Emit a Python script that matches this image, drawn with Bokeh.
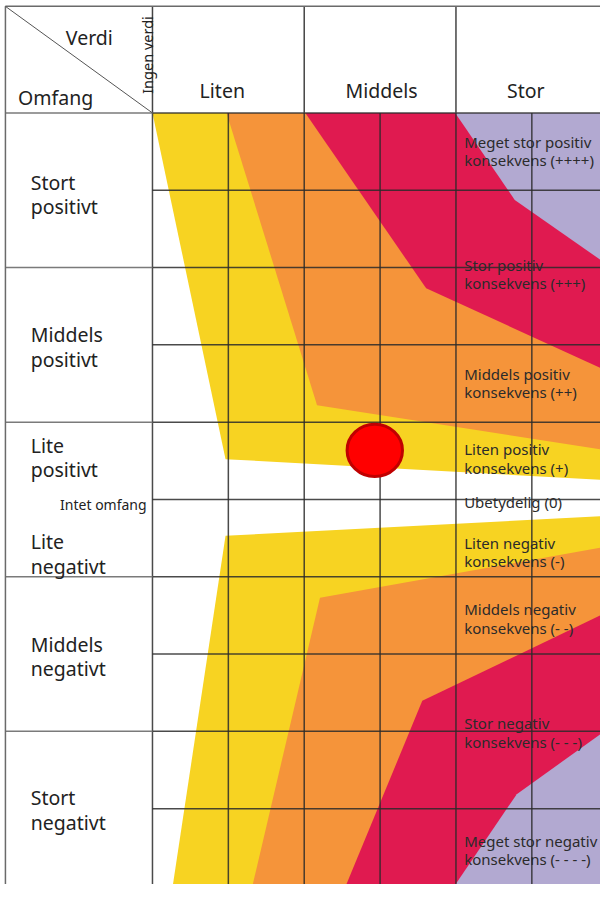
import numpy as np
from bokeh.plotting import figure
from bokeh.models import Range1d
from bokeh.core.properties import value
from bokeh.embed import file_html
from bokeh.resources import INLINE

# ---------------- data ----------------
# value axis: 0 = "Ingen verdi", each value class spans two half-columns
value_classes = ["Liten", "Middels", "Stor"]
no_value_label = "Ingen verdi"
corner_value_label = "Verdi"
corner_extent_label = "Omfang"

# extent axis: +5 (stort positivt) ... 0 (intet omfang) ... -5 (stort negativt)
extent_first = ["Stort", "Middels", "Lite", "Lite", "Middels", "Stort"]
extent_second = ["positivt", "positivt", "positivt", "negativt", "negativt", "negativt"]
no_extent_label = "Intet omfang"

consequence_first = ["Meget stor positiv", "Stor positiv", "Middels positiv",
                     "Liten positiv", "Ubetydelig (0)", "Liten negativ",
                     "Middels negativ", "Stor negativ", "Meget stor negativ"]
consequence_second = ["konsekvens (++++)", "konsekvens (+++)", "konsekvens (++)",
                      "konsekvens (+)", "", "konsekvens (-)",
                      "konsekvens (- -)", "konsekvens (- - -)", "konsekvens (- - - -)"]

# consequence fan zones (value, extent) vertices
yellow_pos_v = [0.0, 6.0, 6.0, 0.963]
yellow_pos_u = [5.0, 5.0, 0.249, 0.521]
orange_pos_v = [0.976, 6.0, 6.0, 2.169]
orange_pos_u = [5.0, 5.0, 0.634, 1.22]
red_pos_v = [2.015, 6.0, 6.0, 3.607]
red_pos_u = [5.0, 5.0, 1.66, 2.732]
purple_pos_v = [3.99, 6.0, 6.0, 4.775]
purple_pos_u = [5.0, 5.0, 3.034, 3.875]

yellow_neg_v = [0.963, 6.0, 6.0, 0.267]
yellow_neg_u = [-0.470, -0.211, -5.0, -5.0]
orange_neg_v = [2.208, 6.0, 6.0, 1.317]
orange_neg_u = [-1.271, -0.607, -5.0, -5.0]
red_neg_v = [3.556, 6.0, 6.0, 2.547]
red_neg_u = [-2.605, -1.454, -5.0, -5.0]
purple_neg_v = [4.801, 6.0, 6.0, 3.98]
purple_neg_u = [-3.812, -2.97, -5.0, -5.0]

# assessed consequence
point_value = [2.93]
point_extent = [0.635]

# ---------------- styles / layout ----------------
YELLOW = "#f7d322"
ORANGE = "#f5943a"
RED = "#e01a50"
PURPLE = "#b2a9d1"
FONT = value("Noto Sans")
TXT = "#222222"

V_LEFT = -1.938
U_TOP = 6.379
U_BOTTOM = -5.0
V_RIGHT = 6.0

p = figure(width=600, height=884, x_range=Range1d(-2.003, 5.905),
           y_range=Range1d(-4.981, 6.455), output_backend="svg",
           toolbar_location=None, min_border=0)
p.axis.visible = False
p.grid.visible = False
p.outline_line_color = None
p.background_fill_color = "white"
p.border_fill_color = "white"

# zones (layered)
p.patches(xs=[yellow_pos_v, yellow_neg_v], ys=[yellow_pos_u, yellow_neg_u],
          fill_color=YELLOW, line_color=None)
p.patches(xs=[orange_pos_v, orange_neg_v], ys=[orange_pos_u, orange_neg_u],
          fill_color=ORANGE, line_color=None)
p.patches(xs=[red_pos_v, red_neg_v], ys=[red_pos_u, red_neg_u],
          fill_color=RED, line_color=None)
p.patches(xs=[purple_pos_v, purple_neg_v], ys=[purple_pos_u, purple_neg_u],
          fill_color=PURPLE, line_color=None)

# grid in data area
vcols = np.arange(0, 6)
urows = np.arange(-5, 6)
p.segment(x0=vcols, y0=[U_BOTTOM] * len(vcols), x1=vcols, y1=[5] * len(vcols),
          line_color="#2a2a2a", line_width=1.5, line_alpha=0.85)
p.segment(x0=[0] * len(urows), y0=urows, x1=[V_RIGHT] * len(urows), y1=urows,
          line_color="#2a2a2a", line_width=1.5, line_alpha=0.85)
# header verticals
hv = np.arange(0, 6, 2)
p.segment(x0=hv, y0=[5] * len(hv), x1=hv, y1=[U_TOP] * len(hv),
          line_color="#444444", line_width=1.5)
# label column lines
major = np.arange(-3, 6, 2)
p.segment(x0=[V_LEFT] * len(major), y0=major, x1=[0] * len(major), y1=major,
          line_color="#7a7a7a", line_width=1.5)
p.segment(x0=[V_LEFT, V_LEFT], y0=[U_TOP, U_TOP], x1=[V_RIGHT, V_LEFT], y1=[U_TOP, U_BOTTOM],
          line_color="#6a6a6a", line_width=1.5)
# diagonal in corner
p.segment(x0=[V_LEFT], y0=[U_TOP], x1=[0], y1=[5], line_color="#555555", line_width=1)

# header texts
p.text(x=[-1.142], y=[5.972], text=[corner_value_label], text_font=FONT,
       text_font_size="19.5px", text_color=TXT, text_align="left", text_baseline="alphabetic")
p.text(x=[-1.771], y=[5.197], text=[corner_extent_label], text_font=FONT,
       text_font_size="19.5px", text_color=TXT, text_align="left", text_baseline="alphabetic")
p.text(x=[0.92, 3.02, 4.92], y=[5.286] * 3, text=value_classes, text_font=FONT,
       text_font_size="19.5px", text_color=TXT, text_align="center", text_baseline="alphabetic")
p.text(x=[-0.077], y=[5.248], text=[no_value_label], angle=np.pi / 2, text_font=FONT,
       text_font_size="14.5px", text_color=TXT, text_align="left", text_baseline="alphabetic")

# row labels
row_u = [4.10, 2.13, 0.70, -0.546, -1.87, -3.86]
p.text(x=[-1.605] * 6, y=row_u, text=extent_first, text_font=FONT,
       text_font_size="19.5px", text_color=TXT, text_align="left", text_baseline="alphabetic")
p.text(x=[-1.605] * 6, y=[u - 0.315 for u in row_u], text=extent_second, text_font=FONT,
       text_font_size="19.5px", text_color=TXT, text_align="left", text_baseline="alphabetic")
p.text(x=[-0.077], y=[-0.064], text=[no_extent_label], text_font=FONT,
       text_font_size="14px", text_color=TXT, text_align="right", text_baseline="alphabetic")

# consequence labels
cons_u = [4.625, 3.037, 1.626, 0.648, -0.038, -0.559, -1.423, -2.897, -4.42]
p.text(x=[4.108] * 9, y=cons_u, text=consequence_first, text_font=FONT,
       text_font_size="15px", text_color="#2b2b2b", text_align="left", text_baseline="alphabetic")
p.text(x=[4.108] * 9, y=[u - 0.235 for u in cons_u], text=consequence_second, text_font=FONT,
       text_font_size="15px", text_color="#2b2b2b", text_align="left", text_baseline="alphabetic")

# assessed point
p.ellipse(x=point_value, y=point_extent, width=0.73, height=0.675,
          fill_color="#ff0000", line_color="#c00000", line_width=3)

open("out.html", "w").write(file_html(p, INLINE))
